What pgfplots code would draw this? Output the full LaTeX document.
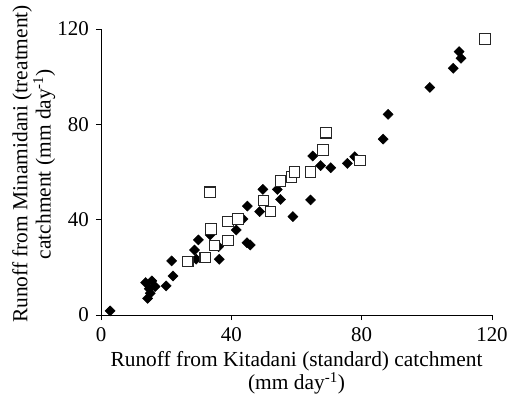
\documentclass[border=0pt]{standalone}
\usepackage{fontspec}
\setmainfont{Liberation Serif}
\usepackage{pgfplots}
\pgfplotsset{compat=1.18}

\begin{document}
\fontsize{21}{24}\selectfont
\begin{tikzpicture}
\useasboundingbox (-101bp,-85bp) rectangle (408bp,315bp);
\begin{axis}[
    at={(0,0)}, anchor=south west,
    scale only axis,
    width=391bp, height=286bp,
    xmin=0, xmax=120, ymin=0, ymax=120,
    axis lines=left,
    axis line style={-, line width=0.8pt},
    xtick={0,40,80,120}, ytick={0,40,80,120},
    tick align=outside,
    major tick length=5bp,
    tick style={line width=0.8pt, black},
    /pgf/number format/assume math mode=true,
    ticklabel style={font=\fontsize{21}{24}\selectfont},
    xlabel={Runoff from Kitadani (standard) catchment\\(mm day\textsuperscript{-1})},
    ylabel={Runoff from Minamidani (treatment)\\catchment (mm day\textsuperscript{-1})},
    xlabel style={align=center, font=\fontsize{21.5}{23.5}\selectfont, yshift=4bp},
    ylabel style={align=center, font=\fontsize{21.5}{23.5}\selectfont, yshift=-12bp, xshift=8bp},
    clip=false,
]
% standard period (filled diamonds)
\addplot[only marks, mark=square*, mark size=3.6bp,
         mark options={rotate=45, fill=black, draw=black}]
    table {
        x y
        2.8 1.7
        13.7 13.6
        15.6 14.3
        16.6 11.9
        15.1 9.1
        14.3 7.0
        14.8 11.0
        20.0 12.2
        22.1 16.4
        21.7 22.7
        28.7 27.3
        29.9 31.5
        29.2 23.4
        33.5 33.6
        36.3 23.4
        36.1 28.7
        41.5 35.7
        43.6 40.3
        44.9 45.7
        44.8 30.3
        45.8 29.4
        48.7 43.4
        49.7 52.7
        54.1 52.7
        55.1 48.5
        58.9 41.3
        64.3 48.3
        65.0 66.7
        67.4 62.7
        70.5 61.8
        75.6 63.6
        77.9 66.4
        86.6 73.8
        88.1 84.2
        100.9 95.5
        108.1 103.5
        109.9 110.5
        110.5 107.7
    };
% treatment period (open squares)
\addplot[only marks, mark=square*, mark size=5.3bp,
         mark options={fill=white, draw=black!85, line width=1.1pt}]
    table {
        x y
        26.6 22.4
        32.0 24.1
        33.5 51.5
        33.7 36.1
        34.8 29.2
        38.9 31.2
        39.0 39.2
        42.0 40.3
        49.9 48.0
        52.0 43.4
        55.1 56.2
        58.5 58.0
        59.4 60.1
        64.3 59.9
        68.2 69.2
        69.0 76.5
        79.5 64.8
        117.8 115.8
    };
\end{axis}
\end{tikzpicture}
\end{document}
